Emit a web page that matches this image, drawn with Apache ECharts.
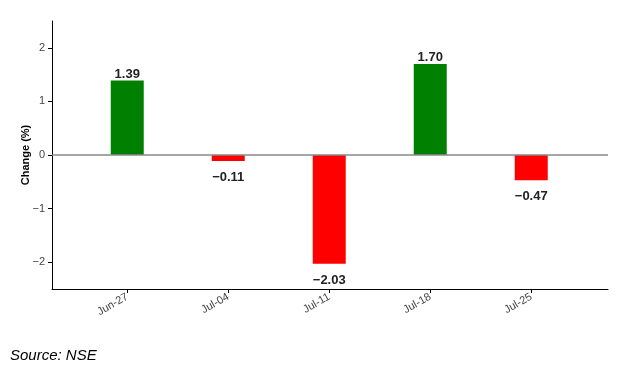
<!DOCTYPE html>
<html><head><meta charset="utf-8">
<script src="https://cdn.jsdelivr.net/npm/echarts@6/dist/echarts.min.js"></script>
<style>html,body{margin:0;padding:0;background:#fff}#c{width:621px;height:374px}</style>
</head><body><div id="c"></div>
<script>
const categories = ['Jun-27', 'Jul-04', 'Jul-11', 'Jul-18', 'Jul-25'];
const changes = [1.39, -0.11, -2.03, 1.70, -0.47];
const yTicks = [-2, -1, 0, 1, 2];
const sourceText = 'Source: NSE';

const fmt = v => (v < 0 ? '\u2212' : '') + Math.abs(v).toFixed(2);
const chart = echarts.init(document.getElementById('c'));
const idx = categories.map((_, i) => i);
chart.setOption({
  animation: false,
  grid: { left: 52, right: 13, top: 21, bottom: 85 },
  xAxis: {
    type: 'value', min: -0.745, max: 4.76,
    splitLine: { show: false },
    axisLine: { onZero: false, lineStyle: { color: '#000', width: 1 } },
    axisTick: { show: true, customValues: idx, length: 4, lineStyle: { color: '#000' } },
    axisLabel: {
      customValues: idx, rotate: 30, margin: 7,
      fontFamily: 'Liberation Sans', fontSize: 11, color: '#444',
      formatter: v => categories[Math.round(v)]
    }
  },
  yAxis: {
    type: 'value', min: -2.5, max: 2.5,
    name: 'Change (%)', nameLocation: 'middle', nameGap: 21, nameMoveOverlap: false,
    nameTextStyle: { fontFamily: 'Liberation Sans', fontSize: 11, fontWeight: 'bold', color: '#000' },
    splitLine: { show: false },
    axisLine: { show: true, onZero: false, lineStyle: { color: '#000', width: 1 } },
    axisTick: { show: true, customValues: yTicks, length: 4, lineStyle: { color: '#000' } },
    axisLabel: {
      customValues: yTicks, margin: 7,
      fontFamily: 'Liberation Sans', fontSize: 11, color: '#444',
      formatter: v => (v < 0 ? '\u2212' : '') + Math.abs(v)
    }
  },
  series: [{
    type: 'bar', barWidth: 33,
    data: changes.map((v, i) => ({
      value: [i, v],
      itemStyle: { color: v >= 0 ? '#008000' : '#ff0000' },
      label: { position: v >= 0 ? 'top' : 'bottom', distance: v >= 0 ? 0 : 10 }
    })),
    label: {
      show: true, fontFamily: 'Liberation Sans', fontSize: 13, fontWeight: 'bold', color: '#222',
      formatter: p => fmt(p.value[1])
    },
    markLine: {
      silent: true, symbol: 'none', label: { show: false },
      lineStyle: { color: '#888', width: 1.5, type: 'solid' },
      data: [{ yAxis: 0 }]
    }
  }],
  graphic: [{
    type: 'text', left: 10, top: 348,
    style: { text: sourceText, font: 'italic 15px "Liberation Sans"', fill: '#000' }
  }]
});
</script></body></html>
